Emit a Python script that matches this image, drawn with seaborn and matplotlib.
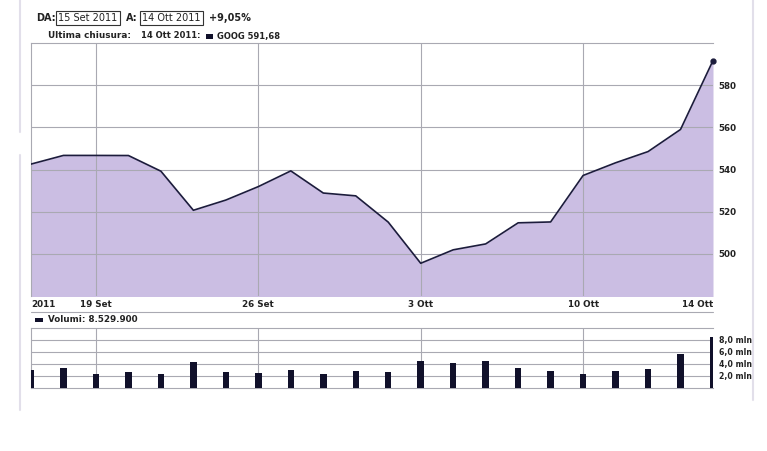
import seaborn as sns
import matplotlib.pyplot as plt
import pandas as pd
from matplotlib.lines import Line2D
from matplotlib.patches import Rectangle

# GOOG daily closes, 15 Sep 2011 - 14 Oct 2011
dates = ['15 Set', '16 Set', '19 Set', '20 Set', '21 Set', '22 Set', '23 Set',
         '26 Set', '27 Set', '28 Set', '29 Set', '30 Set', '3 Ott', '4 Ott',
         '5 Ott', '6 Ott', '7 Ott', '10 Ott', '11 Ott', '12 Ott', '13 Ott', '14 Ott']
closes = [542.56, 546.68, 546.67, 546.63, 539.20, 520.66, 525.51, 531.89, 539.34,
          528.84, 527.50, 515.04, 495.52, 501.90, 504.70, 514.71, 515.12, 537.17,
          543.18, 548.50, 558.99, 591.68]
volumes = [2.97, 3.4, 2.38, 2.7, 2.38, 4.3, 2.7, 2.54, 2.97, 2.27, 2.86, 2.7,
           4.49, 4.16, 4.49, 3.4, 2.86, 2.27, 2.86, 3.13, 5.68, 8.53]  # milioni

tick_pos = [0, 2, 7, 12, 17, 21]
tick_labels = ['2011', '19 Set', '26 Set', '3 Ott', '10 Ott', '14 Ott']
price_ticks = [500, 520, 540, 560, 580]
vol_ticks = [2, 4, 6, 8]

df = pd.DataFrame({'giorno': range(len(dates)), 'data': dates,
                   'chiusura': closes, 'volume': volumes})

sns.set_style('white')
plt.rcParams['font.family'] = ['DejaVu Sans']

fill_col = '#cbbee3'
line_col = '#1c1c3c'
grid_col = '#a9a9b2'
txt_col = '#222222'

fig = plt.figure(figsize=(7.67, 4.51), dpi=100)
W, H = 767, 451

def box(l, t, r, b):
    return [l / W, 1 - b / H, (r - l) / W, (b - t) / H]

# --- pannello prezzi ---
ax = fig.add_axes(box(31, 43, 713, 296))
ax.fill_between(df['giorno'], df['chiusura'], 470, color=fill_col, lw=0, zorder=1)
sns.lineplot(data=df, x='giorno', y='chiusura', ax=ax, color=line_col, lw=1.2, zorder=3)
ax.plot(df['giorno'].iloc[-1], df['chiusura'].iloc[-1], 'o', color=line_col, ms=3.5, zorder=4, clip_on=False)
ax.set_xlim(0, 21)
ax.set_ylim(480, 600)
ax.set_xlabel('')
ax.set_ylabel('')
for v in price_ticks:
    ax.axhline(v, color=grid_col, lw=0.8, zorder=2)
for p in tick_pos[1:-1]:
    ax.axvline(p, color=grid_col, lw=0.8, zorder=2)
ax.yaxis.tick_right()
ax.set_yticks(price_ticks)
ax.set_yticklabels([str(v) for v in price_ticks])
ax.set_xticks(tick_pos)
ax.set_xticklabels(tick_labels)
ax.tick_params(length=0, labelsize=6.3, labelcolor=txt_col, pad=3)
ax.tick_params(axis='y', pad=4)
for lab in ax.get_xticklabels() + ax.get_yticklabels():
    lab.set_fontweight('bold')
ax.get_xticklabels()[0].set_ha('left')
ax.get_xticklabels()[-1].set_ha('right')
for s in ['left', 'top']:
    ax.spines[s].set_color(grid_col)
    ax.spines[s].set_linewidth(0.8)
ax.spines['right'].set_visible(False)
ax.spines['bottom'].set_visible(False)

# --- pannello volumi ---
axv = fig.add_axes(box(31, 328, 713, 388))
for v in vol_ticks:
    axv.axhline(v, color=grid_col, lw=0.8, zorder=0)
for p in tick_pos[1:-1]:
    axv.axvline(p, color=grid_col, lw=0.8, zorder=0)
sns.barplot(data=df, x='giorno', y='volume', ax=axv, native_scale=True,
            color='#10102a', width=0.2, saturation=1, zorder=3, linewidth=0)
axv.set_xlim(0, 21)
axv.set_ylim(0, 10)
axv.set_xlabel('')
axv.set_ylabel('')
axv.set_xticks([])
axv.yaxis.tick_right()
axv.set_yticks(vol_ticks)
axv.set_yticklabels([f'{v},0 mln' for v in vol_ticks])
axv.tick_params(length=0, labelsize=5.6, labelcolor=txt_col, pad=4)
for lab in axv.get_yticklabels():
    lab.set_fontweight('bold')
for s in ['left', 'top', 'bottom']:
    axv.spines[s].set_color(grid_col)
    axv.spines[s].set_linewidth(0.8)
axv.spines['right'].set_visible(False)

# --- intestazione ---
fig.text(36 / W, 1 - 18 / H, 'DA:', fontsize=7, fontweight='bold', color=txt_col, va='center')
fig.text(58 / W, 1 - 18 / H, '15 Set 2011', fontsize=7, color=txt_col, va='center',
         bbox=dict(boxstyle='square,pad=0.25', fc='white', ec='#333333', lw=0.8))
fig.text(126 / W, 1 - 18 / H, 'A:', fontsize=7, fontweight='bold', color=txt_col, va='center')
fig.text(142 / W, 1 - 18 / H, '14 Ott 2011', fontsize=7, color=txt_col, va='center',
         bbox=dict(boxstyle='square,pad=0.25', fc='white', ec='#333333', lw=0.8))
fig.text(209 / W, 1 - 18 / H, '+9,05%', fontsize=7, fontweight='bold', color=txt_col, va='center')

fig.text(48 / W, 1 - 36 / H, 'Ultima chiusura:', fontsize=6.4, fontweight='bold', color=txt_col, va='center')
fig.text(141 / W, 1 - 36 / H, '14 Ott 2011:', fontsize=6, fontweight='bold', color=txt_col, va='center')
fig.patches.append(Rectangle((206 / W, 1 - 38.5 / H), 7 / W, 4 / H, transform=fig.transFigure,
                             fc='#10102a', ec='none'))
fig.text(217 / W, 1 - 36 / H, 'GOOG 591,68', fontsize=6, fontweight='bold', color=txt_col, va='center')

# separatore e legenda volumi
fig.add_artist(Line2D([31 / W, 713 / W], [1 - 311.5 / H] * 2, color=grid_col, lw=0.8))
fig.patches.append(Rectangle((35 / W, 1 - 322 / H), 8 / W, 4 / H, transform=fig.transFigure,
                             fc='#10102a', ec='none'))
fig.text(48 / W, 1 - 320 / H, 'Volumi: 8.529.900', fontsize=6.3, fontweight='bold', color=txt_col, va='center')

# bordi della pagina
page_col = '#e2dfea'
fig.add_artist(Line2D([20 / W] * 2, [1 - 0 / H, 1 - 132 / H], color=page_col, lw=1.5))
fig.add_artist(Line2D([20 / W] * 2, [1 - 155 / H, 1 - 410 / H], color=page_col, lw=1.5))
fig.add_artist(Line2D([753 / W] * 2, [1 - 0 / H, 1 - 400 / H], color=page_col, lw=1.5))

fig.savefig('out.png', dpi=100, facecolor='white')
